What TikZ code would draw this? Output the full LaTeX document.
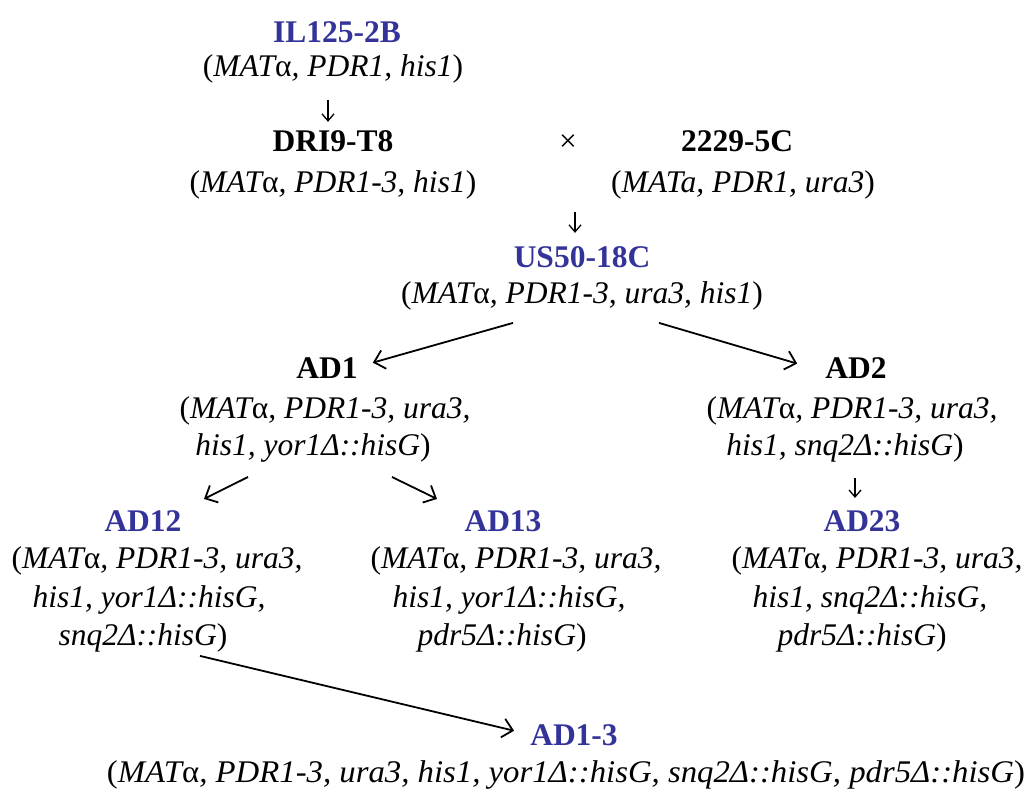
\documentclass[tikz,border=0pt]{standalone}
\usepackage{fontspec}
\setmainfont{Liberation Serif}
\usepackage{graphicx}
\usetikzlibrary{arrows.meta}
\definecolor{strainblue}{RGB}{51,51,153}
\newcommand\bigsz{\fontsize{31.5}{38}\selectfont}
\newcommand\al{{\upshape α}}
\newcommand\lp{\textup{(}}
\newcommand\rp{\textup{)}}
\tikzset{
  strain/.style={font=\bigsz\bfseries, inner sep=0pt, anchor=base},
  bluestrain/.style={strain, text=strainblue},
  geno/.style={font=\bigsz\itshape, inner sep=0pt, anchor=base},
  plain/.style={font=\bigsz, inner sep=0pt},
  diag/.style={line width=1.8pt, -{Straight Barb[length=10pt,width=19pt,line width=1.8pt]}},
  vert/.style={line width=1.3pt, -{Straight Barb[length=7pt,width=12pt,line width=1.3pt]}}
}
\begin{document}
\begin{tikzpicture}[x=1pt,y=1pt]
\useasboundingbox (0,0) rectangle (1028,-789);
% top
\node[bluestrain] (il) at (337,-43) {IL125-2B};
\node[geno] (ilg) at (333,-77) {\lp MAT\al, PDR1, his1\rp};
\node[strain] (dri) at (333,-152) {DRI9-T8};
\node[geno] (drig) at (333,-192) {\lp MAT\al, PDR1-3, his1\rp};
\node[plain] (cross) at (568,-143) {×};
\node[strain] (c2229) at (737,-152) {2229-5C};
\node[geno] (c2229g) at (743,-192) {\lp MATa, PDR1, ura3\rp};
\node[bluestrain] (us) at (582,-267) {US50-18C};
\node[geno] (usg) at (582,-303) {\lp MAT\al, PDR1-3, ura3, his1\rp};
% AD1 / AD2
\node[strain] (ad1) at (327,-378) {AD1};
\node[geno] (ad1a) at (325,-418) {\lp MAT\al, PDR1-3, ura3,};
\node[geno] (ad1b) at (313,-455) {his1, yor1Δ::hisG\rp};
\node[strain] (ad2) at (856,-378) {AD2};
\node[geno] (ad2a) at (852,-418) {\lp MAT\al, PDR1-3, ura3,};
\node[geno] (ad2b) at (845,-455) {his1, snq2Δ::hisG\rp};
% third row
\node[bluestrain] (ad12) at (143,-531) {AD12};
\node[geno] (ad12a) at (157,-568) {\lp MAT\al, PDR1-3, ura3,};
\node[geno] (ad12b) at (149,-607) {his1, yor1Δ::hisG,};
\node[geno] (ad12c) at (143,-645) {snq2Δ::hisG\rp};
\node[bluestrain] (ad13) at (503,-531) {AD13};
\node[geno] (ad13a) at (516,-568) {\lp MAT\al, PDR1-3, ura3,};
\node[geno] (ad13b) at (509,-607) {his1, yor1Δ::hisG,};
\node[geno] (ad13c) at (502,-645) {pdr5Δ::hisG\rp};
\node[bluestrain] (ad23) at (862,-531) {AD23};
\node[geno] (ad23a) at (877,-568) {\lp MAT\al, PDR1-3, ura3,};
\node[geno] (ad23b) at (870,-607) {his1, snq2Δ::hisG,};
\node[geno] (ad23c) at (862,-645) {pdr5Δ::hisG\rp};
% bottom
\node[bluestrain] (adf) at (574,-745) {AD1-3};
\node[geno] (adfg) at (566,-782) {\resizebox{918pt}{\height}{\lp MAT\al, PDR1-3, ura3, his1, yor1Δ::hisG, snq2Δ::hisG, pdr5Δ::hisG\rp}};
% vertical arrows
\draw[vert] ([xshift=-5pt,yshift=-16pt]ilg.south) -- ([xshift=-5pt,yshift=9pt]dri.north);
\draw[vert] ([xshift=7pt,yshift=-69pt]cross.center) -- ([xshift=-7pt,yshift=13pt]us.north);
\draw[vert] ([xshift=10pt,yshift=-16pt]ad2b.south) -- ([xshift=-7pt,yshift=12pt]ad23.north);
% diagonal arrows
\draw[diag] ([xshift=-69pt,yshift=-13pt]usg.south) -- ([xshift=15pt,yshift=5pt]ad1.east);
\draw[diag] ([xshift=77pt,yshift=-13pt]usg.south) -- ([xshift=-28pt,yshift=4pt]ad2.west);
\draw[diag] ([xshift=-65pt,yshift=-15pt]ad1b.south) -- ([xshift=61pt,yshift=11pt]ad12.north);
\draw[diag] ([xshift=79pt,yshift=-15pt]ad1b.south) -- ([xshift=-66pt,yshift=11pt]ad13.north);
\draw[diag] ([xshift=57pt,yshift=-4pt]ad12c.south) -- ([xshift=-16pt,yshift=4pt]adf.west);
\end{tikzpicture}
\end{document}
